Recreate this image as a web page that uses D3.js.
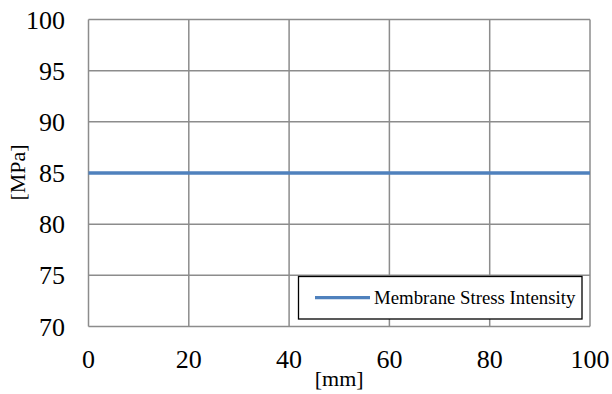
<!DOCTYPE html>
<html>
<head>
<meta charset="utf-8">
<script src="https://cdn.jsdelivr.net/npm/d3@7"></script>
<style>
  body { margin: 0; background: #fff; }
</style>
</head>
<body>
<script>
// chart values
var xDomain = [0, 100];
var yDomain = [70, 100];
var xTicks = [0, 20, 40, 60, 80, 100];
var yTicks = [70, 75, 80, 85, 90, 95, 100];
var seriesName = "Membrane Stress Intensity";
var seriesX = [0, 100];
var seriesY = [85, 85];

var w = 612, h = 394;
var m = {left: 88.5, right: 22, top: 19.5, bottom: 67.5};
var serif = "'Liberation Serif', 'Times New Roman', Times, serif";

var svg = d3.select("body").append("svg")
    .attr("width", w)
    .attr("height", h)
    .attr("font-family", serif);

var x = d3.scaleLinear().domain(xDomain).range([m.left, w - m.right]);
var y = d3.scaleLinear().domain(yDomain).range([h - m.bottom, m.top]);

// grid lines
svg.append("g").selectAll("line")
    .data(xTicks)
    .enter().append("line")
    .attr("x1", function(d){ return x(d); })
    .attr("x2", function(d){ return x(d); })
    .attr("y1", y(yDomain[0]))
    .attr("y2", y(yDomain[1]))
    .style("stroke", "#8c8c8c")
    .style("stroke-width", 1.5);

svg.append("g").selectAll("line")
    .data(yTicks)
    .enter().append("line")
    .attr("x1", x(xDomain[0]))
    .attr("x2", x(xDomain[1]))
    .attr("y1", function(d){ return y(d); })
    .attr("y2", function(d){ return y(d); })
    .style("stroke", "#8c8c8c")
    .style("stroke-width", 1.5);

// tick labels
svg.append("g").selectAll("text")
    .data(yTicks)
    .enter().append("text")
    .attr("x", m.left - 23.5)
    .attr("y", function(d){ return y(d) + 9; })
    .attr("text-anchor", "end")
    .attr("font-family", serif)
    .attr("font-size", 26)
    .text(function(d){ return d; });

svg.append("g").selectAll("text")
    .data(xTicks)
    .enter().append("text")
    .attr("x", function(d){ return x(d); })
    .attr("y", y(yDomain[0]) + 41.5)
    .attr("text-anchor", "middle")
    .attr("font-family", serif)
    .attr("font-size", 26)
    .text(function(d){ return d; });

// axis titles
svg.append("text")
    .attr("x", x(50))
    .attr("y", 386)
    .attr("text-anchor", "middle")
    .attr("font-family", serif)
    .attr("font-size", 22)
    .text("[mm]");

svg.append("text")
    .attr("transform", "translate(25,172.5) rotate(-90)")
    .attr("text-anchor", "middle")
    .attr("font-family", serif)
    .attr("font-size", 22)
    .text("[MPa]");

// series line
var line = d3.line()
    .x(function(d, i){ return x(seriesX[i]); })
    .y(function(d){ return y(d); });

svg.append("path")
    .datum(seriesY)
    .attr("d", line)
    .style("fill", "none")
    .style("stroke", "#4f81bd")
    .style("stroke-width", 3.3);

// legend
var legend = svg.append("g");
legend.append("rect")
    .attr("x", 298.5)
    .attr("y", 276.5)
    .attr("width", 283.5)
    .attr("height", 42.5)
    .style("fill", "#fff")
    .style("stroke", "#000")
    .style("stroke-width", 1.3);
legend.append("line")
    .attr("x1", 315)
    .attr("x2", 370)
    .attr("y1", 297.7)
    .attr("y2", 297.7)
    .style("stroke", "#4f81bd")
    .style("stroke-width", 3.3);
legend.append("text")
    .attr("x", 374)
    .attr("y", 304)
    .attr("font-family", serif)
    .attr("font-size", 18.8)
    .text(seriesName);
</script>
</body>
</html>
